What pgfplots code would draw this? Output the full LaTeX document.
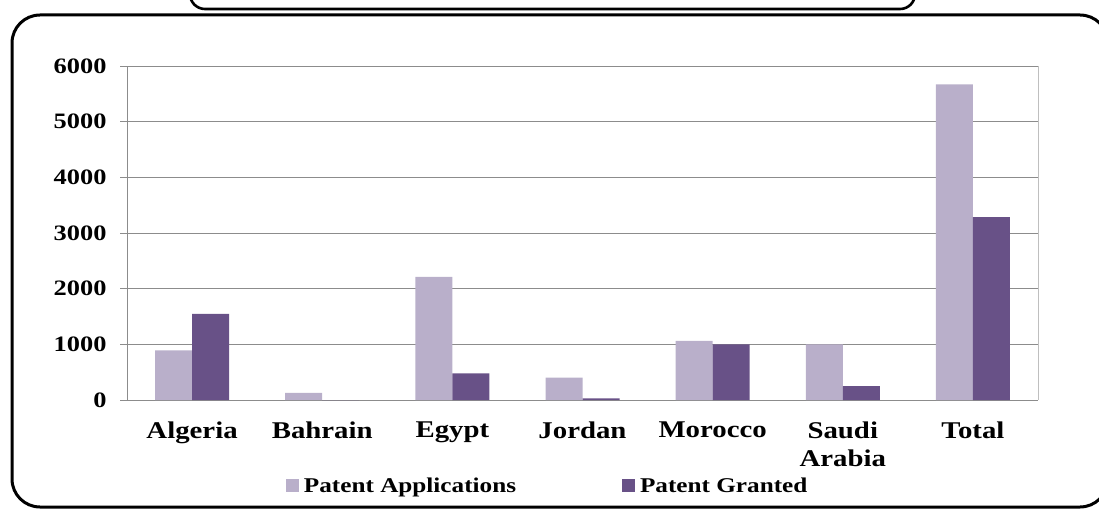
\documentclass[border=0pt]{standalone}
\usepackage{pgfplots}
\pgfplotsset{compat=1.18}
\usepackage{fontspec}
\setmainfont{Liberation Serif}[FakeStretch=1.2]
\definecolor{appc}{HTML}{B9AFCA}
\definecolor{grc}{HTML}{685187}
\definecolor{gridc}{HTML}{8C8C8C}
\begin{document}
\begin{tikzpicture}[x=1pt,y=1pt]
\useasboundingbox (0,0) rectangle (1099,509);
\begin{scope}
\clip (0,0) rectangle (1099,509);
\draw[line width=2.6pt, rounded corners=15pt] (190,500) rectangle (915,560);
\draw[line width=3pt, rounded corners=28pt] (12,2) rectangle (1108,494);
\end{scope}
\begin{axis}[
  at={(127pt,109pt)}, anchor=south west,
  scale only axis, width=911pt, height=334pt,
  xmin=-0.5, xmax=6.5, ymin=0, ymax=6000,
  axis lines*=left,
  axis line style={draw=gridc, line width=1pt},
  ybar=0pt, bar width=37pt,
  ytick={0,1000,...,6000},
  ymajorgrids, grid style={draw=gridc, line width=1pt},
  major tick length=7pt,
  tick align=outside,
  tick style={draw=gridc, line width=1pt},
  /pgf/number format/1000 sep={},
  /pgf/number format/assume math mode=true,
  yticklabel style={font=\fontsize{22}{24}\selectfont\bfseries, xshift=-10pt},
  xtick={0,...,6},
  xticklabels={Algeria,Bahrain,Egypt,Jordan,Morocco,{Saudi\\Arabia},Total},
  xticklabel style={font=\fontsize{24}{28}\selectfont\bfseries, align=center, yshift=-11pt},
  x tick style={draw=none},
  extra x ticks={-0.5,0.5,1.5,2.5,3.5,4.5,5.5,6.5},
  extra x tick labels={},
  extra x tick style={tick style={draw=gridc, line width=1pt}, major tick length=7pt, grid=none},
  legend style={at={(axis description cs:0.171,-0.258)}, anchor=west, draw=none, fill=none,
    legend columns=2, font=\fontsize{21}{23}\selectfont\bfseries,
    /tikz/every even column/.append style={column sep=104pt},
    nodes={inner sep=2pt}},
  legend image code/.code={\fill[#1] (0pt,-6pt) rectangle (13pt,7pt);},
  clip=false,
]
\addplot[fill=appc, draw=none] coordinates {(0,890) (1,130) (2,2210) (3,400) (4,1060) (5,1000) (6,5670)};
\addlegendentry{\hspace{3pt}Patent Applications}
\addplot[fill=grc, draw=none] coordinates {(0,1545) (1,0) (2,480) (3,30) (4,1000) (5,250) (6,3285)};
\addlegendentry{\hspace{3pt}Patent Granted}
\draw[draw=gray!50, line width=1pt] (axis cs:6.5,0) -- (axis cs:6.5,6000);
\end{axis}
\end{tikzpicture}
\end{document}
